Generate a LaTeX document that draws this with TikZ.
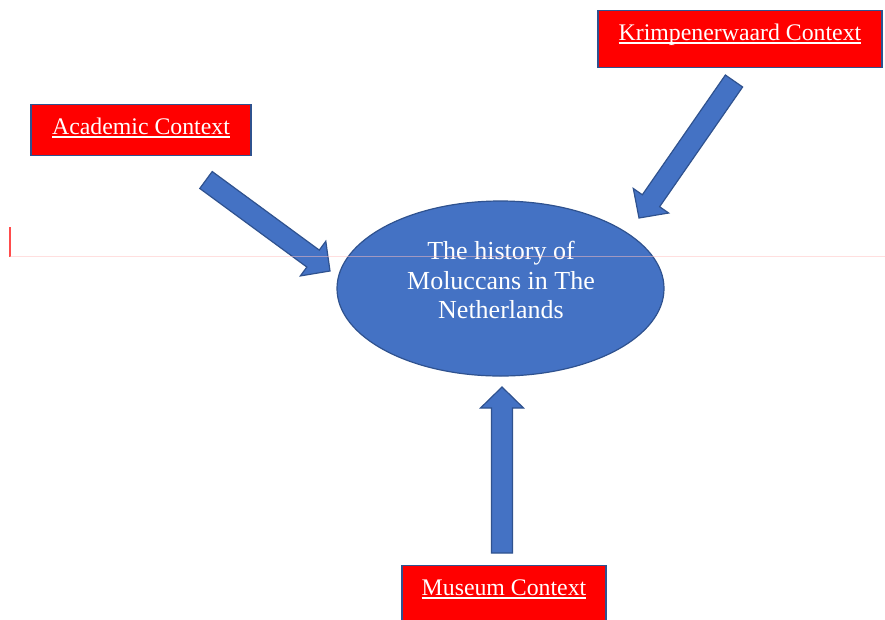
\documentclass[tikz,border=0pt]{standalone}
\usepackage{fontspec}
\setmainfont{Liberation Serif}
\usetikzlibrary{calc,shapes.geometric}
\definecolor{ctxred}{HTML}{FF0000}
\definecolor{ofcblue}{HTML}{4472C4}
\definecolor{ofcedge}{HTML}{2F528F}

% underlined label text
\newcommand{\ctxline}[1]{\sbox0{#1}\rlap{\vrule width\wd0 height -2pt depth 3.6pt}\usebox0}

% block arrow from a tail coordinate to a tip coordinate
\newcommand{\blockarrow}[2]{%
  \coordinate (#2-base) at ($(#2)!21pt!(#1)$);
  \filldraw[blockarr] ($(#1)!10.5pt!90:(#2)$) -- ($(#2-base)!10.5pt!90:(#2)$)
    -- ($(#2-base)!21.5pt!90:(#2)$) -- (#2) -- ($(#2-base)!21.5pt!-90:(#2)$)
    -- ($(#2-base)!10.5pt!-90:(#2)$) -- ($(#1)!10.5pt!-90:(#2)$) -- cycle;}

\begin{document}
\begin{tikzpicture}[x=1pt, y=-1pt,
    ctxbox/.style={rectangle, draw=ofcedge, fill=ctxred, line width=1.3pt,
                   text=white, font=\fontsize{23.8}{28}\selectfont,
                   inner sep=0pt, text height=29.5pt, anchor=north},
    hist/.style={ellipse, draw=ofcedge, fill=ofcblue, line width=1.2pt,
                 minimum width=327pt, minimum height=175pt, inner sep=0pt},
    histtext/.style={text=white, align=center,
                     font=\fontsize{26}{29.5}\selectfont},
    blockarr/.style={draw=ofcedge, fill=ofcblue, line width=1.2pt, line join=miter},
    cursor/.style={draw=red!70, line width=2pt},
    guide/.style={draw=red!25, line width=0.8pt, opacity=0.5}]

\useasboundingbox (0,0) rectangle (885,619);

% Context boxes
\node[ctxbox, minimum width=220pt, text depth=21.5pt] (acad) at (141,104)
  {\ctxline{Academic Context}};
\node[ctxbox, minimum width=284pt, text depth=27.5pt] (krimp) at (740,10)
  {\ctxline{Krimpenerwaard Context}};
\node[ctxbox, minimum width=204pt, text depth=40pt] (museum) at (504,565)
  {\ctxline{Museum Context}};

% Central topic
\node[hist] (hist) at (500.5,288.5) {};
\node[histtext] (histlbl) at (501,280)
  {The history of\\Moluccans in The\\Netherlands};

% Arrows pointing at the topic
\coordinate (acad-tail) at (206,180);
\coordinate (acad-tip) at (330,271);
\coordinate (krimp-tail) at (734,81);
\coordinate (krimp-tip) at (639,218);
\coordinate (mus-tail) at (502,553);
\coordinate (mus-tip) at (502,387);
\blockarrow{acad-tail}{acad-tip}
\blockarrow{krimp-tail}{krimp-tip}
\blockarrow{mus-tail}{mus-tip}

% Text cursor and guide line
\draw[cursor] (9.5,227) -- (9.5,257);
\draw[guide] (10,256) -- (885,256);

\end{tikzpicture}
\end{document}
